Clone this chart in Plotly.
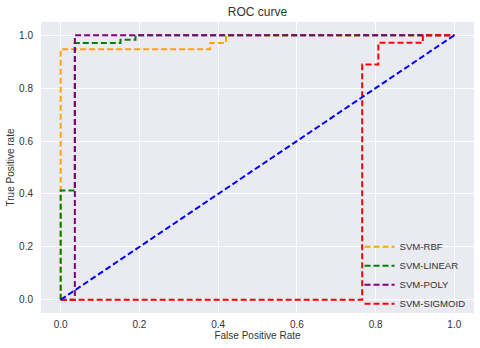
import plotly.graph_objects as go

# ROC curves (fpr, tpr)
rbf_fpr = [0.0, 0.0, 0.38, 0.38, 0.42, 0.42, 1.0]
rbf_tpr = [0.0, 0.947, 0.947, 0.971, 0.971, 1.0, 1.0]

linear_fpr = [0.0, 0.0, 0.036, 0.036, 0.152, 0.152, 0.19, 0.19, 1.0]
linear_tpr = [0.0, 0.413, 0.413, 0.971, 0.971, 0.983, 0.983, 1.0, 1.0]

poly_fpr = [0.0, 0.036, 0.036, 1.0]
poly_tpr = [0.0, 0.0, 1.0, 1.0]

sigmoid_fpr = [0.0, 0.766, 0.766, 0.807, 0.807, 0.92, 0.92, 1.0]
sigmoid_tpr = [0.0, 0.0, 0.889, 0.889, 0.972, 0.972, 1.0, 1.0]

chance = [0.0, 1.0]

curves = [
    ("SVM-RBF", rbf_fpr, rbf_tpr, "orange"),
    ("SVM-LINEAR", linear_fpr, linear_tpr, "green"),
    ("SVM-POLY", poly_fpr, poly_tpr, "purple"),
    ("SVM-SIGMOID", sigmoid_fpr, sigmoid_tpr, "red"),
]

fig = go.Figure()

for name, fpr, tpr, col in curves:
    fig.add_trace(go.Scatter(
        x=fpr, y=tpr, mode="lines", name=name,
        line=dict(color=col, width=2, dash="6px,3px"),
    ))

fig.add_trace(go.Scatter(
    x=chance, y=chance, mode="lines", showlegend=False,
    line=dict(color="blue", width=2, dash="6px,3px"),
))

fig.update_layout(
    width=480, height=348,
    margin=dict(l=41, r=6, t=22, b=35),
    paper_bgcolor="white",
    plot_bgcolor="#EAEAF2",
    font=dict(family="Liberation Sans, Arial, sans-serif", size=10, color="#333333"),
    title=dict(text="ROC curve", x=0.5, xref="paper", xanchor="center",
               y=1 - 12 / 348, yref="container", yanchor="middle",
               font=dict(size=12, color="#333333")),
    legend=dict(x=0.992, y=0.13, xanchor="right", yanchor="middle",
                bgcolor="rgba(0,0,0,0)", font=dict(size=9.6, color="#333333"),
                itemwidth=30),
)

fig.update_xaxes(
    range=[-0.05, 1.05], tickvals=[0.0, 0.2, 0.4, 0.6, 0.8, 1.0],
    ticktext=["0.0", "0.2", "0.4", "0.6", "0.8", "1.0"],
    showgrid=True, gridcolor="white", gridwidth=1, zeroline=False, showline=False,
    ticks="", ticklabelstandoff=4, automargin=False,
    title=dict(text="False Positive Rate", font=dict(size=10, color="#333333"), standoff=2),
)
fig.update_yaxes(
    range=[-0.05, 1.05], tickvals=[0.0, 0.2, 0.4, 0.6, 0.8, 1.0],
    ticktext=["0.0", "0.2", "0.4", "0.6", "0.8", "1.0"],
    showgrid=True, gridcolor="white", gridwidth=1, zeroline=False, showline=False,
    ticks="", ticklabelstandoff=7, automargin=False,
    title=dict(text="True Positive rate", font=dict(size=10, color="#333333"), standoff=2),
)

# the page's default 8px body margin would shift the figure
fig.write_html("out.html", config={"displayModeBar": False},
               post_script="document.body.style.margin = '0';")
